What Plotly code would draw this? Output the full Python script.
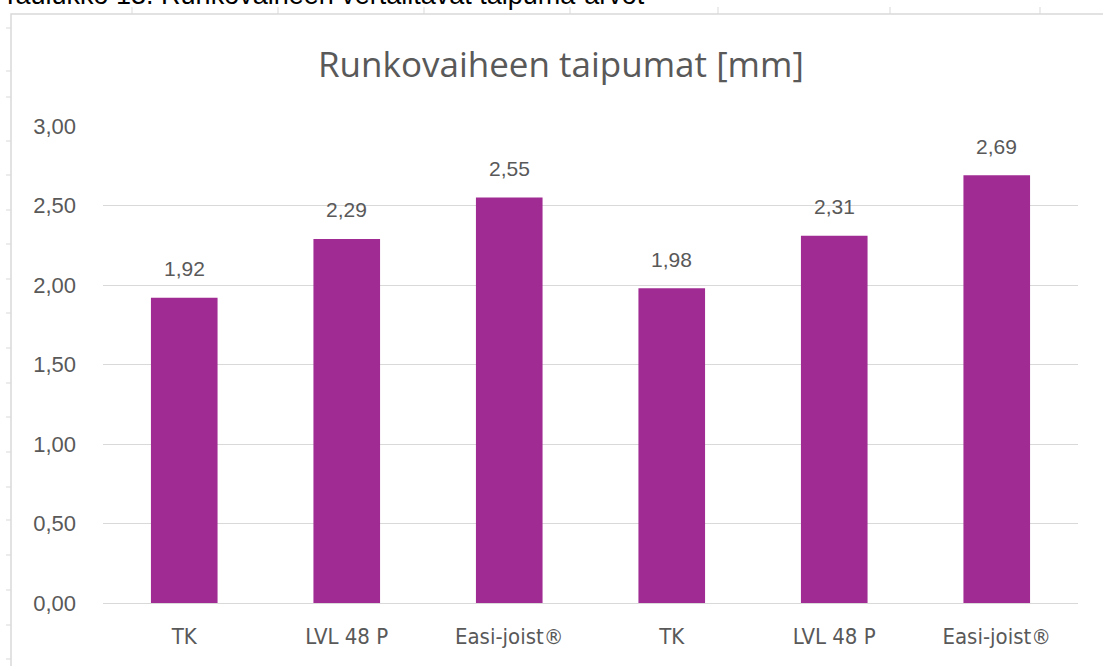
import plotly.graph_objects as go

categories = ["TK", "LVL 48 P", "Easi-joist®", "TK", "LVL 48 P", "Easi-joist®"]
values = [1.92, 2.29, 2.55, 1.98, 2.31, 2.69]
y_ticks = [0, 0.5, 1.0, 1.5, 2.0, 2.5, 3.0]

W, H = 1103, 666
ML, MR, MT, MB = 103, 25, 126, 63
PW, PH = W - ML - MR, H - MT - MB


def px(x):
    return (x - ML) / PW


def py(y):
    return (H - MB - y) / PH


BAR = "#A02B93"
GREY = "#595959"
GRID = "#D9D9D9"

fig = go.Figure()
fig.add_trace(go.Bar(
    x=list(range(len(categories))),
    y=values,
    marker=dict(color=BAR, line=dict(width=0)),
    hoverinfo="skip",
))

annotations = []
for i, v in enumerate(values):
    annotations.append(dict(
        x=i, y=v, xref="x", yref="y", text=f"{v:.2f}".replace(".", ","),
        showarrow=False, yanchor="middle", yshift=29,
        font=dict(family="Liberation Sans, Arial, sans-serif", size=21, color=GREY)))

shapes = []
# chart frame
shapes.append(dict(type="rect", xref="paper", yref="paper",
                   x0=px(11), x1=px(W + 5), y0=py(H + 5), y1=py(14),
                   line=dict(color=GRID, width=1.5), fillcolor="rgba(0,0,0,0)", layer="below"))
# spreadsheet grid remnants
for xx in [132, 278, 424, 570, 718, 890, 1040]:
    shapes.append(dict(type="line", xref="paper", yref="paper",
                       x0=px(xx), x1=px(xx), y0=py(7), y1=py(14),
                       line=dict(color=GRID, width=1)))
for yy in [28, 71, 97, 141, 175, 210, 244, 279, 313, 348, 383, 417, 452, 487, 520, 555, 590, 625, 659]:
    shapes.append(dict(type="line", xref="paper", yref="paper",
                       x0=px(6), x1=px(11), y0=py(yy), y1=py(yy),
                       line=dict(color=GRID, width=1)))

annotations += [
    dict(text="Runkovaiheen taipumat [mm]", xref="paper", yref="paper",
         x=px(561), y=py(63), xanchor="center", yanchor="middle", showarrow=False,
         font=dict(family="Open Sans, sans-serif", size=35, color=GREY)),
    dict(text="Taulukko 13. Runkovaiheen vertailtavat taipuma-arvot", xref="paper", yref="paper",
         x=px(0), y=py(-5), xanchor="left", yanchor="middle", showarrow=False,
         font=dict(family="Liberation Sans, Arial, sans-serif", size=27, color="#000000")),
]

fig.update_layout(
    width=W, height=H,
    margin=dict(l=ML, r=MR, t=MT, b=MB, pad=0),
    paper_bgcolor="white", plot_bgcolor="white",
    separators=", ",
    showlegend=False,
    bargap=0.59,
    shapes=shapes,
    annotations=annotations,
    xaxis=dict(
        tickmode="array", tickvals=list(range(len(categories))), ticktext=categories,
        range=[-0.5, len(categories) - 0.5],
        showgrid=False, zeroline=False, showline=False, ticks="",
        tickfont=dict(family="DejaVu Sans Condensed, Liberation Sans Narrow, sans-serif", size=22, color=GREY),
        ticklabelstandoff=18,
    ),
    yaxis=dict(
        range=[0, 3], tickvals=y_ticks, tickformat=".2f",
        showgrid=True, gridcolor=GRID, gridwidth=1.3,
        zeroline=True, zerolinecolor=GRID, zerolinewidth=1.3,
        showline=False, ticks="",
        tickfont=dict(family="Liberation Sans, Arial, sans-serif", size=22, color=GREY),
        ticklabelstandoff=26,
    ),
)

fig.write_html("out.html", config={"displayModeBar": False},
               post_script="document.body.style.margin='0px';document.body.style.padding='0px';")
